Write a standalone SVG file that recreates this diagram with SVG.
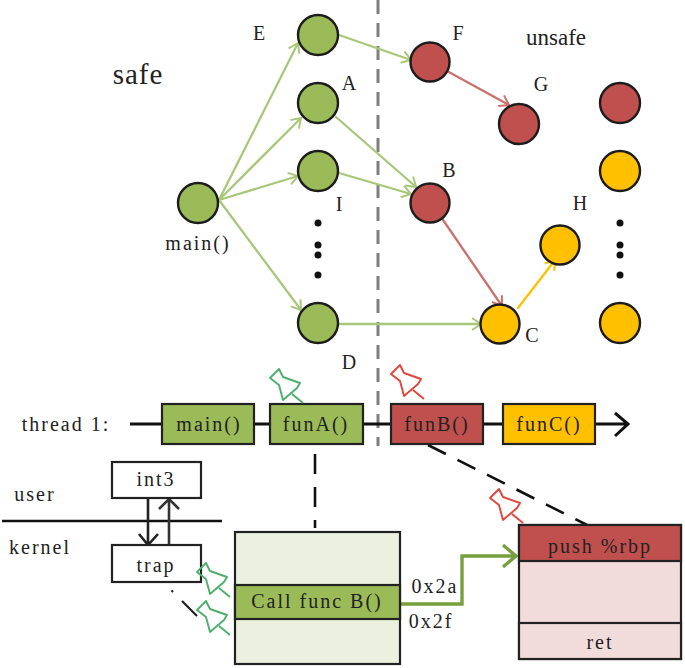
<svg xmlns="http://www.w3.org/2000/svg" width="685" height="668" viewBox="0 0 685 668">
<style>
text{font-family:"Liberation Serif","Times New Roman",serif;fill:#222;text-anchor:middle}
.l{font-size:20px;letter-spacing:2px}.s{font-size:20px}
.n{stroke:#1c1c1c;stroke-width:2.4}
.g{fill:#9bbb59}.r{fill:#c0504d}.y{fill:#ffc000}
.b{stroke:#222;stroke-width:2.2}
.e{fill:none;stroke-width:2.3;stroke-linecap:round;stroke-linejoin:round}
.eg{stroke:#a9c77b}.er{stroke:#c8716d}.ey{stroke:#ffc000}
.blk{fill:none;stroke:#111;stroke-width:3}
.dash{fill:none;stroke:#111;stroke-width:2.6;stroke-dasharray:20 13}
.pin{fill:none;stroke-width:1.9;stroke-linejoin:round}
</style>
<defs>
<marker id="ag" viewBox="0 0 14 14" refX="13" refY="7" markerWidth="14" markerHeight="14" markerUnits="userSpaceOnUse" orient="auto"><path d="M4 1L13 7L4 13" fill="none" stroke="#a9c77b" stroke-width="2"/></marker>
<marker id="ar" viewBox="0 0 14 14" refX="13" refY="7" markerWidth="14" markerHeight="14" markerUnits="userSpaceOnUse" orient="auto"><path d="M4 1L13 7L4 13" fill="none" stroke="#c8716d" stroke-width="2"/></marker>
<marker id="ay" viewBox="0 0 14 14" refX="13" refY="7" markerWidth="14" markerHeight="14" markerUnits="userSpaceOnUse" orient="auto"><path d="M4 1L13 7L4 13" fill="none" stroke="#ffc000" stroke-width="2"/></marker>
<path id="pin" d="M-33 -25L-24 -34L-20 -26L-3 -20L-6 -15L-20 -3L-24 -18Z M-11 -9L0 0"/>
</defs>

<g id="connectors">
<line x1="378" y1="0" x2="378" y2="446" stroke="#7f7f7f" stroke-width="3" stroke-dasharray="14 9"/>
<path class="e eg" marker-end="url(#ag)" d="M219 200L298 43"/>
<path class="e eg" marker-end="url(#ag)" d="M219 200L301 118"/>
<path class="e eg" marker-end="url(#ag)" d="M219 200L298 176"/>
<path class="e eg" marker-end="url(#ag)" d="M219 200L301 310"/>
<path class="e eg" marker-end="url(#ag)" d="M339 35L411 60"/>
<path class="e eg" marker-end="url(#ag)" d="M336 117L416 187"/>
<path class="e eg" marker-end="url(#ag)" d="M339 173L411 194"/>
<path class="e eg" marker-end="url(#ag)" d="M339 324L481 324"/>
<path class="e er" marker-end="url(#ar)" d="M447 71L509 105"/>
<path class="e er" marker-end="url(#ar)" d="M441 217L502 306"/>
<path class="e ey" marker-end="url(#ay)" d="M518 308L555 260"/>
<path class="blk" d="M130 424H162M254 424H270M364 424H391M482 424H503M595 424H627M615 413L628 424L615 436"/>
<path class="dash" d="M315 454V528"/>
<path class="dash" d="M428 445L587 525"/>
<path d="M171.500 590.500L173 592M182 601L197 616" fill="none" stroke="#222" stroke-width="2.200"/>
<path d="M2 521H222" stroke="#111" stroke-width="2.400"/>
<path d="M148 498V545M139 534L148 545L158 534" fill="none" stroke="#222" stroke-width="2.600"/>
<path d="M169 545V499M159 509L169 499L179 509" fill="none" stroke="#333" stroke-width="2.600"/>
<path d="M399 604H462V556H514M503 545L516 556L503 567" fill="none" stroke="#769f3f" stroke-width="3.400"/>
</g>

<g id="node-main"><circle class="n g" cx="198" cy="203" r="20"/><text class="l" x="198" y="250">main()</text></g>
<g id="node-E"><circle class="n g" cx="318" cy="35" r="20"/><text class="s" x="259" y="40">E</text></g>
<g id="node-A"><circle class="n g" cx="318" cy="103" r="20"/><text class="s" x="349" y="90">A</text></g>
<g id="node-I"><circle class="n g" cx="318" cy="171" r="20"/><text class="s" x="339" y="211">I</text></g>
<g id="node-D"><circle class="n g" cx="318" cy="323" r="20"/><text class="s" x="349" y="369">D</text></g>
<g id="node-dots1"><circle cx="318" cy="223" r="3.500" fill="#111"/><circle cx="318" cy="245" r="3.500" fill="#111"/><circle cx="318" cy="255" r="3.500" fill="#111"/><circle cx="318" cy="275" r="3.500" fill="#111"/></g>
<g id="node-F"><circle class="n r" cx="430" cy="62" r="19.500"/><text class="s" x="458" y="40">F</text></g>
<g id="node-G"><circle class="n r" cx="519" cy="124" r="20"/><text class="s" x="541" y="91">G</text></g>
<g id="node-B"><circle class="n r" cx="430" cy="203" r="19.500"/><text class="s" x="449" y="177">B</text></g>
<g id="node-C"><circle class="n y" cx="500" cy="324" r="19.500"/><text class="s" x="532" y="342">C</text></g>
<g id="node-H"><circle class="n y" cx="560" cy="245" r="19.500"/><text class="s" x="580" y="210">H</text></g>
<g id="node-R"><circle class="n r" cx="620" cy="103" r="20"/></g>
<g id="node-Y1"><circle class="n y" cx="620" cy="171" r="20"/></g>
<g id="node-dots2"><circle cx="620" cy="223" r="3.500" fill="#111"/><circle cx="620" cy="245" r="3.500" fill="#111"/><circle cx="620" cy="255" r="3.500" fill="#111"/><circle cx="620" cy="275" r="3.500" fill="#111"/></g>
<g id="node-Y2"><circle class="n y" cx="620" cy="323" r="20"/></g>
<text x="138" y="84" font-size="29" letter-spacing="1">safe</text>
<text x="556" y="45" font-size="23">unsafe</text>

<text class="l" x="66" y="431">thread 1:</text>
<text class="l" x="35" y="501">user</text>
<text class="l" x="40" y="554">kernel</text>
<g id="node-t-main"><rect class="b g" x="162" y="404" width="92" height="40"/><text class="l" x="209" y="431">main()</text></g>
<g id="node-t-funA"><rect class="b g" x="270" y="404" width="93" height="40"/><text class="l" x="316" y="431">funA()</text></g>
<g id="node-t-funB"><rect class="b r" x="391" y="404" width="92" height="40"/><text class="l" x="437" y="431">funB()</text></g>
<g id="node-t-funC"><rect class="b y" x="503" y="404" width="92" height="40"/><text class="l" x="549" y="431">funC()</text></g>

<g id="node-int3"><rect class="b" fill="#fff" x="112" y="462" width="89" height="36"/><text class="l" x="156" y="486">int3</text></g>
<g id="node-trap"><rect class="b" fill="#fff" x="112" y="545" width="89" height="37"/><text class="l" x="156" y="572">trap</text></g>

<g id="node-call"><rect class="b" fill="#ebf1de" x="235" y="532" width="165" height="132"/><rect class="b g" x="235" y="585" width="165" height="34"/><text class="l" x="317" y="608">Call func B()</text></g>
<text class="l" x="435" y="593">0x2a</text>
<text class="l" x="431" y="628">0x2f</text>

<g id="node-stack"><rect class="b" fill="#f2dcdb" x="519" y="525" width="162" height="134"/><rect class="b r" x="519" y="525" width="162" height="36"/><rect class="b" fill="#f2dcdb" x="519" y="623" width="162" height="36"/><text class="l" x="600" y="553">push %rbp</text><text class="l" x="600" y="649">ret</text></g>

<g id="pins" class="pin">
<use href="#pin" x="303" y="403" stroke="#4caf6e"/>
<use href="#pin" x="230" y="597" stroke="#4caf6e"/>
<use href="#pin" x="230" y="635" stroke="#4caf6e"/>
<use href="#pin" x="424" y="399" stroke="#e2453a"/>
<use href="#pin" x="523" y="523" stroke="#e2453a"/>
</g>
</svg>
